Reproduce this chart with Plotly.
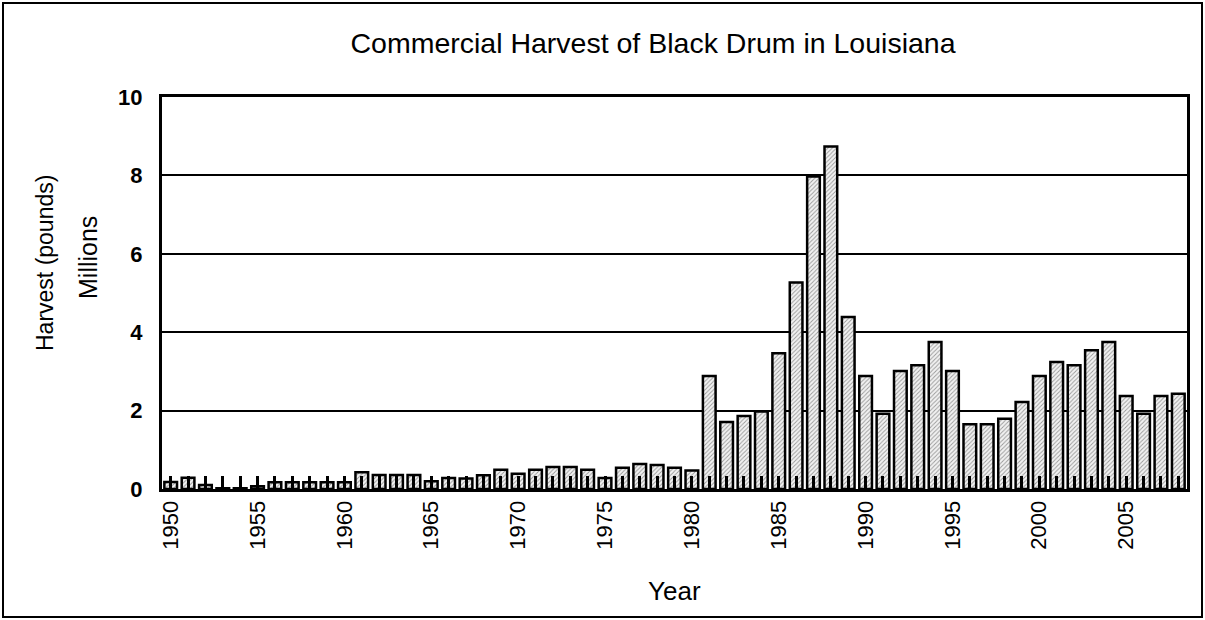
import plotly.graph_objects as go

years = list(range(1950, 2009))
harvest_millions = [
    0.18, 0.29, 0.10, 0.02, 0.02, 0.07, 0.17, 0.17, 0.17, 0.17,
    0.17, 0.43, 0.36, 0.36, 0.36, 0.20, 0.28, 0.27, 0.35, 0.49,
    0.39, 0.49, 0.56, 0.56, 0.49, 0.28, 0.54, 0.64, 0.61, 0.54,
    0.47, 2.88, 1.71, 1.86, 1.98, 3.46, 5.27, 7.97, 8.74, 4.39,
    2.88, 1.92, 3.01, 3.16, 3.75, 3.01, 1.65, 1.65, 1.79, 2.22,
    2.88, 3.24, 3.16, 3.54, 3.75, 2.37, 1.92, 2.37, 2.43,
]
tick_labels = [str(y) if y % 5 == 0 else "" for y in years]
y_ticks = [0, 2, 4, 6, 8, 10]

W, H = 1205, 620
L, R, T, B = 162, 18, 97, 131
PW, PH = W - L - R, H - T - B

def px_x(p):
    return (p - L) / PW

def px_y(p):
    return (H - B - p) / PH

fig = go.Figure()
fig.add_trace(go.Bar(
    x=years, y=harvest_millions,
    marker=dict(
        color="#d0d0d0",
        line=dict(color="black", width=2.5),
        pattern=dict(shape="/", fillmode="replace", bgcolor="#f2f2f2",
                     fgcolor="#999999", size=3, solidity=0.3),
    ),
    showlegend=False,
))

font = "Arial, Liberation Sans, sans-serif"
fig.update_layout(
    width=W, height=H,
    margin=dict(l=L, r=R, t=T, b=B),
    paper_bgcolor="white", plot_bgcolor="white",
    bargap=0.27,
    font=dict(family=font, color="black"),
    title=dict(text="Commercial Harvest of Black Drum in Louisiana",
               x=px_x(653), xref="paper", xanchor="center",
               y=1 - 43 / H, yanchor="middle", font=dict(size=28.5)),
    xaxis=dict(
        range=[1949.5, 2008.5],
        tickmode="array", tickvals=years, ticktext=tick_labels,
        tickangle=-90, tickfont=dict(size=22),
        ticks="inside", ticklen=13, tickwidth=2.5, tickcolor="black",
        showline=True, linecolor="black", linewidth=3, mirror=True,
        showgrid=False, zeroline=False,
    ),
    yaxis=dict(
        range=[0, 10], tickmode="array", tickvals=y_ticks,
        tickfont=dict(size=22, weight="bold"),
        ticks="", ticklabelstandoff=12,
        showline=True, linecolor="black", linewidth=3, mirror=True,
        showgrid=True, gridcolor="black", gridwidth=2, zeroline=False,
    ),
    shapes=[dict(type="rect", xref="paper", yref="paper",
                 x0=px_x(3), x1=px_x(1202), y0=px_y(617), y1=px_y(3),
                 line=dict(color="black", width=2), layer="below")],
    annotations=[
        dict(text="Harvest (pounds)", textangle=-90, xref="paper", yref="paper",
             x=px_x(45), y=px_y(263), showarrow=False, font=dict(size=23),
             xanchor="center", yanchor="middle"),
        dict(text="Millions", textangle=-90, xref="paper", yref="paper",
             x=px_x(88), y=px_y(258), showarrow=False, font=dict(size=25),
             xanchor="center", yanchor="middle"),
        dict(text="Year", xref="paper", yref="paper",
             x=px_x(674), y=px_y(591), showarrow=False, font=dict(size=26),
             xanchor="center", yanchor="middle"),
    ],
)

fig.write_html("out.html", config={"displayModeBar": False},
               post_script="document.body.style.margin='0px';")
